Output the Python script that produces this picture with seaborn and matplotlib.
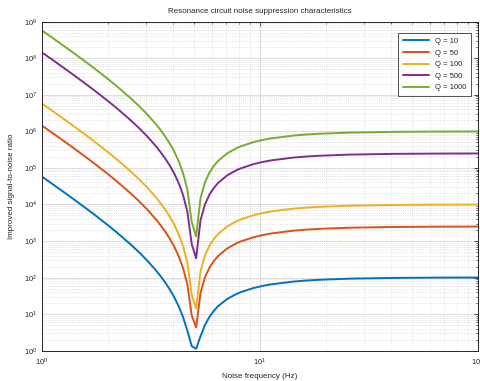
import seaborn as sns
import matplotlib.pyplot as plt
import pandas as pd

# noise frequency (Hz)
freq = [1.0, 1.098, 1.262, 1.385, 1.592, 1.748, 2.009, 2.205, 2.535, 2.783,
        3.054, 3.352, 3.511, 3.678, 3.854, 4.037, 4.229, 4.431, 4.642, 4.863,
        5.094, 5.337, 5.591, 5.857, 6.136, 6.428, 7.055, 7.743, 8.111, 9.326,
        10.24, 11.23, 14.17, 16.30, 18.74, 25.95, 41.32, 65.79, 100.0]

# improved signal-to-noise ratio for each Q
snr_q10 = [57601, 39027, 21611, 14485, 7851, 5165.7, 2697.6, 1716.1, 835.6, 497.75,
           283.6, 151.21, 106.6, 72.84, 47.72, 29.52, 16.82, 8.48, 3.57, 1.33,
           1.134, 2.49, 5.01, 8.36, 12.29, 16.6, 25.77, 34.99, 39.44, 51.77,
           58.97, 65.3, 77.65, 83.06, 87.27, 93.71, 98.09, 99.85, 100.5]
snr_q50 = [1.44e6, 975651, 5.40e5, 362101, 196251, 129118, 67416, 42879, 20867, 12420,
           7066, 3756, 2642, 1797.1, 1169, 713.9, 396.5, 188.1, 65.3, 9.21,
           4.35, 38.3, 101.2, 184.9, 283.2, 391, 620.3, 850.6, 962, 1270.4,
           1450.2, 1608.5, 1917.2, 2052.6, 2157.7, 2318.8, 2428.3, 2472.2, 2488.5]
snr_q100 = [5.76e6, 3902601, 2.161e6, 1448401, 785001, 516471, 269661, 171511, 83465, 49676,
            28262, 15022, 10564, 7185.3, 4672.8, 2852.6, 1583, 749.4, 258.3, 33.8,
            14.4, 150.3, 401.7, 736.6, 1129.8, 1561, 2478, 3399.5, 3845, 5078,
            5797.7, 6431, 7666, 8207.3, 8628, 9272, 9710, 9886, 9951]
snr_q500 = [1.44e8, 9.7565e7, 5.4025e7, 3.621e7, 1.9625e7, 1.2912e7, 6.7415e6, 4.2878e6, 2.0866e6, 1.2419e6,
            7.0653e5, 375526, 2.6408e5, 179608, 1.16795e5, 71291, 39551, 18710, 6434, 822,
            336, 3733, 10019, 18391, 28221, 39001, 61926, 84964, 96106, 126936,
            144918, 160751, 191621, 205158, 215666, 231783, 242733, 247121, 248753]
snr_q1000 = [5.76e8, 3.9026e8, 2.161e8, 1.4484e8, 7.85e7, 5.1647e7, 2.6966e7, 1.7151e7, 8.3464e6, 4.9675e6,
             2.8261e6, 1.5021e6, 1.0563e6, 718431, 4.6718e5, 285161, 1.582e5, 74836, 25732, 3285,
             1341, 14931, 40073, 73561, 112881, 1.56e5, 2.477e5, 339851, 3.8442e5, 5.0774e5,
             579671, 6.43e5, 7.6648e5, 820631, 8.6266e5, 9.2713e5, 9.7093e5, 9.8848e5, 9.9501e5]

labels = ["Q = 10", "Q = 50", "Q = 100", "Q = 500", "Q = 1000"]
series = [snr_q10, snr_q50, snr_q100, snr_q500, snr_q1000]
colors = ["#0072BD", "#D95319", "#EDB120", "#7E2F8E", "#77AC30"]

# long form table for seaborn
frames = []
for lab, vals in zip(labels, series):
    frames.append(pd.DataFrame({"freq": freq, "snr": vals, "Q": lab}))
df = pd.concat(frames, ignore_index=True)

sns.set_style("white")
plt.rcParams["font.family"] = ["Liberation Sans", "DejaVu Sans"]
plt.rcParams["mathtext.fontset"] = "custom"
plt.rcParams["mathtext.rm"] = "Liberation Sans"

fig = plt.figure(figsize=(4.8, 3.81), dpi=100, facecolor="white")
ax = fig.add_axes([0.0875, 0.0795, 0.9083, 0.8635])

sns.lineplot(data=df, x="freq", y="snr", hue="Q", palette=colors,
             linewidth=1.4, ax=ax)

ax.set_xscale("log")
ax.set_yscale("log")
ax.set_xlim(1, 100)
ax.set_ylim(1, 1e9)

# grid like the reference
ax.grid(True, which="major", color="#dedede", linewidth=0.8, linestyle="-")
ax.grid(True, which="minor", color="#d0d0d0", linewidth=0.5, linestyle=":")
ax.set_axisbelow(True)

ax.tick_params(which="both", direction="in", top=True, right=True,
               labelsize=5.5, colors="#262626")
ax.tick_params(which="major", length=3, width=0.6)
ax.tick_params(which="minor", length=1.6, width=0.5)
ax.tick_params(axis="x", which="major", pad=4)
for sp in ax.spines.values():
    sp.set_color("#262626")
    sp.set_linewidth(0.7)

ax.set_title("Resonance circuit noise suppression characteristics",
             fontsize=5.8, pad=6)
ax.set_xlabel("Noise frequency (Hz)", fontsize=5.8, labelpad=4)
ax.set_ylabel("Improved signal-to-noise ratio", fontsize=5.8, labelpad=6)

leg = ax.legend(loc="upper right", bbox_to_anchor=(0.984, 0.965),
                borderaxespad=0, frameon=True, fancybox=False,
                edgecolor="#262626", fontsize=5.5, handlelength=3.4,
                labelspacing=0.55, borderpad=0.6)
leg.get_frame().set_linewidth(0.7)

plt.savefig("out.png", dpi=100, facecolor="white")
plt.close("all")
